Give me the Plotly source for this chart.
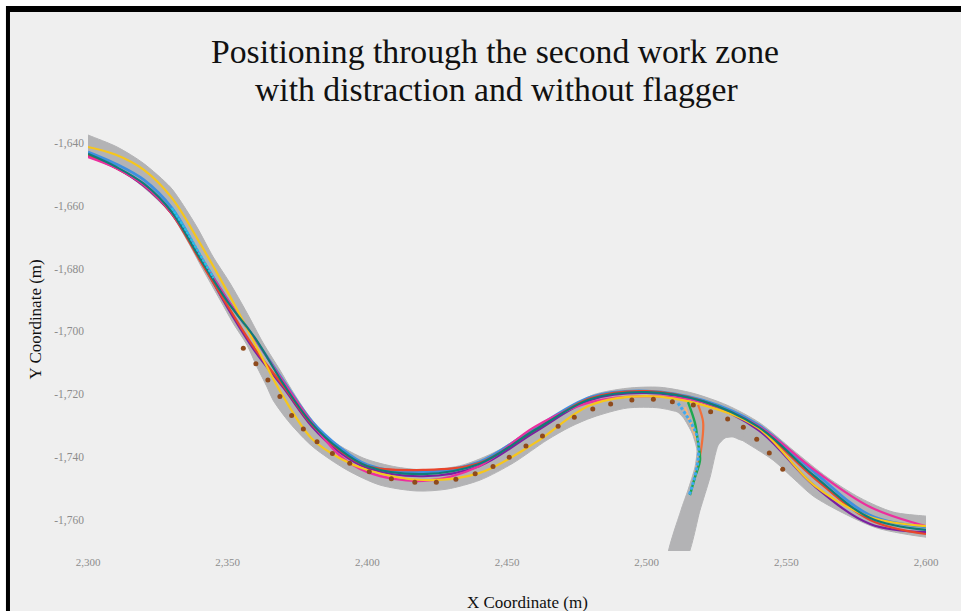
import plotly.graph_objects as go

# Road outline (left to right on top, back along the bottom)
road_top_x = [2290, 2300, 2310.4, 2319.7, 2329.4, 2332.9, 2339, 2344.8, 2350.8, 2356.9, 2362.7, 2368.7, 2372.3, 2378, 2385.6, 2398.5, 2410.6, 2422.4, 2434.3, 2446.4, 2458.3, 2472.6, 2480.8, 2493, 2504.8, 2516.6, 2528.8, 2540.6, 2552.4, 2564.6, 2576.4, 2588.2, 2600, 2610]
road_top_y = [-1634, -1637.5, -1641.3, -1646.4, -1654, -1658.2, -1666.8, -1676.3, -1684.6, -1694.1, -1703.7, -1712.3, -1717.7, -1725.5, -1733.6, -1740.3, -1743.2, -1744.1, -1742.5, -1738.1, -1731.4, -1724.1, -1720.2, -1718.1, -1717.8, -1719.7, -1723.5, -1729.2, -1737.8, -1746.4, -1753, -1757.5, -1758.8, -1759.4]
road_low_x = [2290, 2300, 2310.4, 2319.7, 2329.4, 2335.4, 2341.2, 2347.3, 2351.9, 2356.9, 2360.5, 2364.1, 2366.2, 2372.3, 2380.6, 2392.7, 2404.5, 2417.8, 2428.5, 2440.4, 2452.2, 2464.3, 2472.6, 2480.8, 2493, 2504.8, 2516, 2530.9, 2537, 2545.3, 2552.4, 2559.6, 2570.3, 2582.5, 2600, 2610]
road_low_y = [-1641, -1644.5, -1648, -1654, -1662.3, -1670.9, -1680.4, -1690, -1697.3, -1704.3, -1711.3, -1717.7, -1721.8, -1729.2, -1736.8, -1744.1, -1748.9, -1750.8, -1750.2, -1747.3, -1741.9, -1734.6, -1730.4, -1727.3, -1724.4, -1724.4, -1727, -1733, -1736.2, -1741, -1746.7, -1752.4, -1757.8, -1762.6, -1765.5, -1766]

# Side road that leaves the main road towards the bottom of the chart
branch_x = [2509.5, 2513, 2516.3, 2518, 2517.3, 2514.8, 2512.3, 2507.6, 2514, 2519.1, 2522.7, 2525.6, 2528.1, 2530.9, 2534.2, 2534, 2518]
branch_y = [-1724.4, -1727.3, -1732.4, -1737.8, -1743.2, -1750.5, -1756.9, -1772.5, -1772.5, -1756.9, -1746.4, -1736.2, -1733.9, -1733.6, -1734.6, -1728, -1722]

# Driven paths through the main road
lane_x = [2300, 2310, 2320, 2330, 2340, 2350, 2360, 2370, 2380, 2390, 2400, 2420, 2440, 2460, 2480, 2500, 2520, 2540, 2560, 2580, 2600]
purple_y = [-1644.1, -1648, -1653.7, -1662.6, -1676.9, -1692.5, -1706.6, -1718, -1730.1, -1738.4, -1743.5, -1746.1, -1742.9, -1732, -1721.8, -1719.6, -1722.5, -1731.4, -1749.2, -1761.3, -1763.9]
blue_y = [-1642.9, -1646.7, -1651.8, -1660.7, -1675.7, -1690, -1702.7, -1715.8, -1728.5, -1736.8, -1742.5, -1744.8, -1741.6, -1730.8, -1720.9, -1719, -1721.9, -1729.8, -1744.8, -1758.5, -1762.2]
red_y = [-1643.8, -1648, -1653.4, -1662.6, -1677.3, -1691.9, -1705.9, -1717.4, -1729.5, -1737.8, -1742.9, -1744.1, -1741.9, -1731.4, -1721.2, -1719, -1722.2, -1730.8, -1746.7, -1760, -1764.5]
magenta_y = [-1644.5, -1648, -1653.4, -1662.3, -1676, -1690, -1702.7, -1716.1, -1728.9, -1739.4, -1744.8, -1747.6, -1742.9, -1730.3, -1722.5, -1720.6, -1722.5, -1730.1, -1744.1, -1755.9, -1762]
yellow_y = [-1641.3, -1643.8, -1648.6, -1657.5, -1671.8, -1687.5, -1704.3, -1720.9, -1734, -1740.3, -1744.1, -1747.3, -1745.1, -1735.5, -1723.4, -1720.6, -1723.4, -1730.8, -1749, -1759.1, -1762]
teal_y = [-1643.5, -1647.6, -1653, -1662, -1676.6, -1690.6, -1702.4, -1716.8, -1729.2, -1737.5, -1742.9, -1745.4, -1742.2, -1731.4, -1721.5, -1719.3, -1722.2, -1730.4, -1746, -1759.4, -1763.2]

# Short cyan stretch on the long descent
descent_x = [2330, 2335.4, 2340, 2345]
descent_y = [-1660.7, -1668.3, -1675.4, -1683]

# Paths that leave by the side road
peach_x = [2513.7, 2516.6, 2518.4]
peach_y = [-1724.1, -1731.4, -1735.5]
cyan_x = [2511.2, 2516.3, 2518.4, 2518.4, 2516.6, 2515.2]
cyan_y = [-1722.8, -1729.8, -1734.6, -1741, -1748.3, -1752.1]
orange_x = [2518.4, 2520.2, 2519.8, 2518.8, 2516.6]
orange_y = [-1723.4, -1728.8, -1735.5, -1741, -1748.6]
green_x = [2514.8, 2517.3, 2518.4, 2519.1, 2517.3, 2515.5]
green_y = [-1722.5, -1729.2, -1735.5, -1741, -1746.4, -1752.1]

# Brown markers along the inside edge
dot_x = [2355.6, 2360.1, 2364.4, 2368.7, 2372.9, 2377.1, 2382, 2387.5, 2393.7, 2400.7, 2408.6, 2417, 2424.7, 2431.7, 2438.6, 2445, 2450.8, 2456.8, 2462.7, 2468.3, 2474.1, 2480.7, 2487.1, 2494.7, 2502.4, 2509.2, 2516.7, 2522.9, 2529, 2534.6, 2539.4, 2543.9, 2548.7]
dot_y = [-1705.4, -1710.3, -1715.5, -1720.7, -1726.8, -1731.1, -1735.1, -1738.9, -1742, -1744.7, -1746.9, -1748, -1748, -1747.1, -1745.3, -1743, -1740.1, -1736.5, -1733.3, -1730.2, -1727.3, -1724.7, -1723.1, -1721.8, -1721.6, -1722.4, -1723.4, -1725.6, -1727.9, -1730.5, -1734.3, -1738.7, -1743.9]

x_ticks = [2300, 2350, 2400, 2450, 2500, 2550, 2600]
x_labels = ["2,300", "2,350", "2,400", "2,450", "2,500", "2,550", "2,600"]
y_ticks = [-1640, -1660, -1680, -1700, -1720, -1740, -1760]
y_labels = ["-1,640", "-1,660", "-1,680", "-1,700", "-1,720", "-1,740", "-1,760"]

SERIF = "Liberation Serif"
BG = "#efefef"
ROAD = "#b3b3b5"

fig = go.Figure()

fig.add_trace(go.Scatter(
    x=road_top_x + road_low_x[::-1],
    y=road_top_y + road_low_y[::-1],
    mode="lines",
    fill="toself",
    fillcolor=ROAD,
    line=dict(color=ROAD, width=1, shape="spline", smoothing=0.8),
    hoverinfo="skip",
))
fig.add_trace(go.Scatter(
    x=branch_x,
    y=branch_y,
    mode="lines",
    fill="toself",
    fillcolor=ROAD,
    line=dict(color=ROAD, width=1, shape="spline", smoothing=0.6),
    hoverinfo="skip",
))

for y, color, w in [(purple_y, "#7b1fa2", 2.2), (blue_y, "#3f8fe0", 2.8), (red_y, "#e8452c", 2.2),
                    (magenta_y, "#ec2f9e", 2.2), (yellow_y, "#f6c61c", 2.2), (teal_y, "#0f7d78", 2.2)]:
    fig.add_trace(go.Scatter(x=lane_x, y=y, mode="lines",
                             line=dict(color=color, width=w, shape="spline")))

fig.add_trace(go.Scatter(x=descent_x, y=descent_y, mode="lines",
                         line=dict(color="#27c0e8", width=2.5, shape="spline", dash="3px,1px")))

fig.add_trace(go.Scatter(x=peach_x, y=peach_y, mode="lines",
                         line=dict(color="#f5b27a", width=2.5, shape="spline")))
fig.add_trace(go.Scatter(x=orange_x, y=orange_y, mode="lines",
                         line=dict(color="#f26f3a", width=2.2, shape="spline")))
fig.add_trace(go.Scatter(x=green_x, y=green_y, mode="lines",
                         line=dict(color="#1ea850", width=2.4, shape="spline")))
fig.add_trace(go.Scatter(x=cyan_x, y=cyan_y, mode="lines",
                         line=dict(color="#3fa9f0", width=3, shape="spline", dash="3px,2px")))

fig.add_trace(go.Scatter(x=dot_x, y=dot_y, mode="markers",
                         marker=dict(color="#8f4a1c", size=5)))

fig.update_layout(
    width=961,
    height=611,
    margin=dict(l=88, r=35, t=130, b=60),
    paper_bgcolor="#ffffff",
    plot_bgcolor="rgba(0,0,0,0)",
    showlegend=False,
    font=dict(family=SERIF),
    xaxis=dict(range=[2300, 2600], tickvals=x_ticks, ticktext=x_labels,
               showgrid=False, zeroline=False, showline=False, ticks="", ticklabelstandoff=3,
               tickfont=dict(size=11, color="#8c8c8c")),
    yaxis=dict(range=[-1769.9, -1635.9], tickvals=y_ticks, ticktext=y_labels,
               showgrid=False, zeroline=False, showline=False, ticks="", ticklabelstandoff=3,
               tickfont=dict(size=11.5, color="#8c8c8c")),
    annotations=[
        dict(text="Positioning through the second work zone",
             xref="paper", yref="paper", x=0.4857, y=1.1875, xanchor="center", yanchor="middle",
             showarrow=False, font=dict(size=33.7, color="#111111")),
        dict(text="with distraction and without flagger",
             xref="paper", yref="paper", x=0.4869, y=1.0973, xanchor="center", yanchor="middle",
             showarrow=False, font=dict(size=33.7, color="#111111")),
        dict(text="X Coordinate (m)", xref="paper", yref="paper", x=0.525, y=-0.122,
             xanchor="center", yanchor="middle", showarrow=False,
             font=dict(size=17, color="#111111")),
        dict(text="Y Coordinate (m)", xref="paper", yref="paper", x=-0.0625, y=0.549,
             xanchor="center", yanchor="middle", textangle=-90, showarrow=False,
             font=dict(size=17, color="#111111")),
    ],
    # black frame on the top and left, white page outside it
    shapes=[
        dict(type="rect", xref="paper", yref="paper", x0=-0.0979, x1=1.05, y0=-0.2, y1=1.2945,
             fillcolor="#000000", line_width=0, layer="below"),
        dict(type="rect", xref="paper", yref="paper", x0=-0.0931, x1=1.05, y0=-0.2, y1=1.2803,
             fillcolor=BG, line_width=0, layer="below"),
    ],
)

fig.write_html("out.html", config=dict(displayModeBar=False),
               post_script="document.body.style.margin='0';document.body.style.overflow='hidden';")
